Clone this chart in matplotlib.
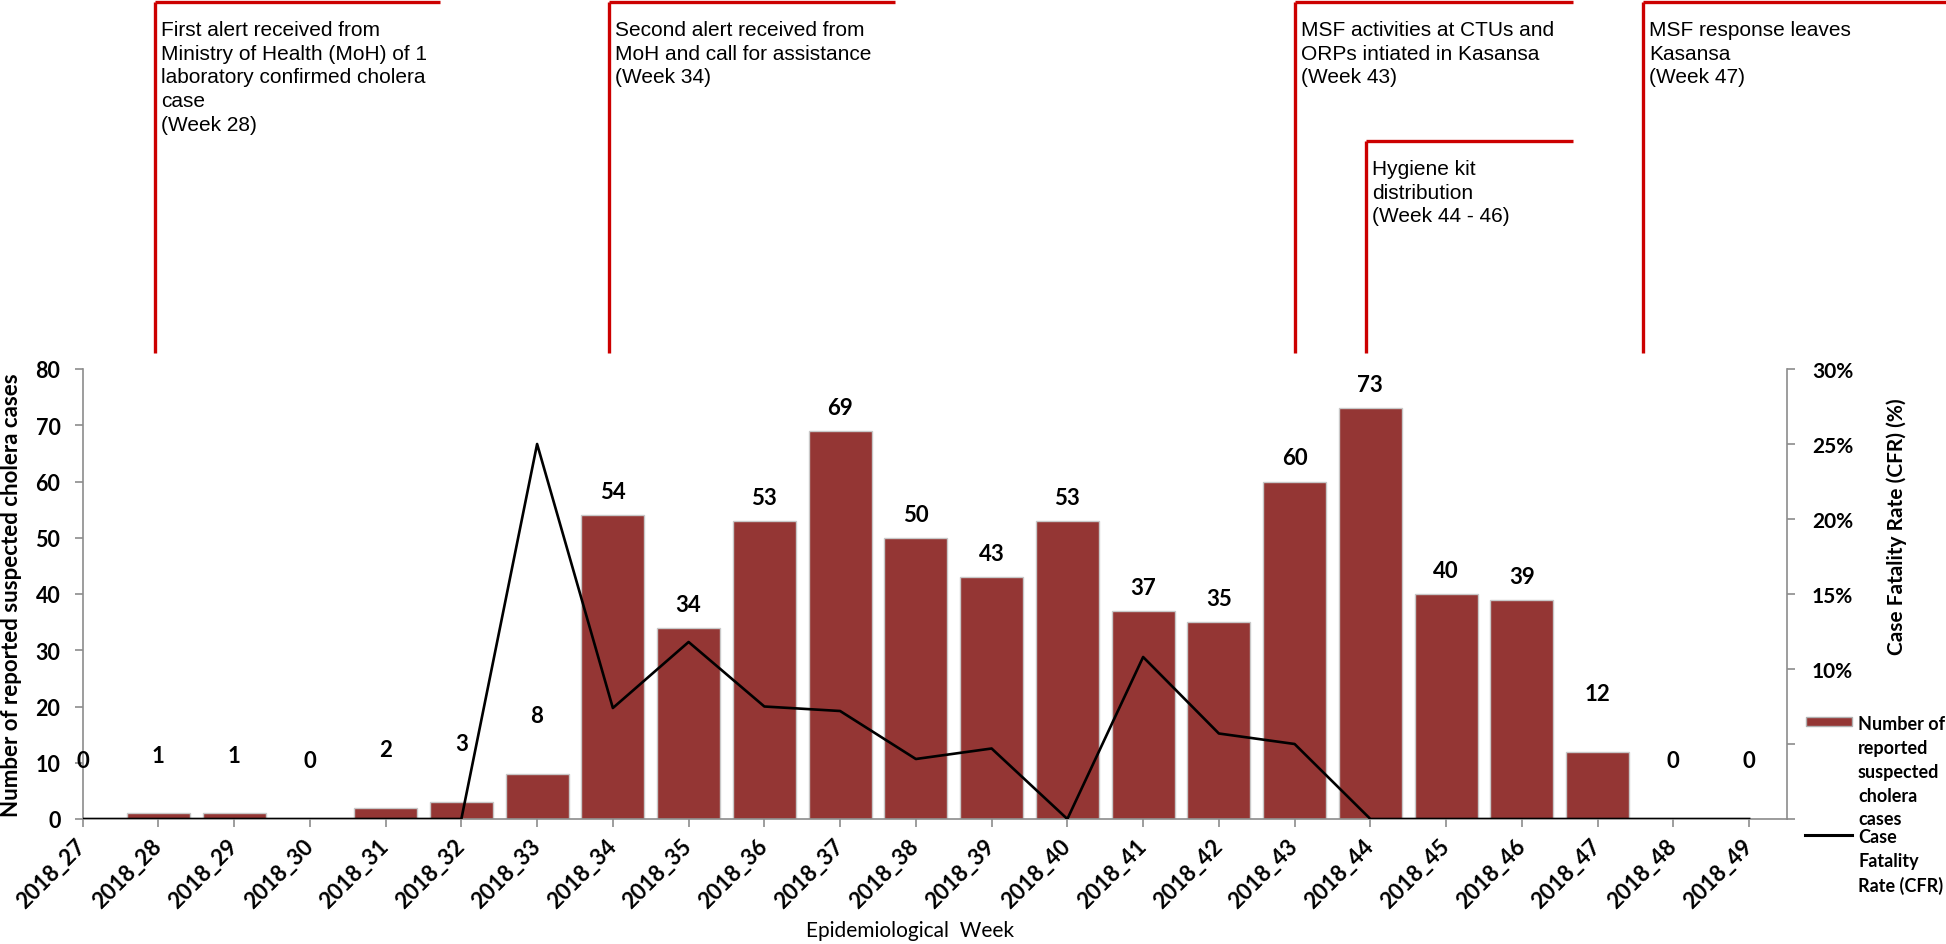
import numpy as np
import matplotlib.pyplot as plt
from matplotlib.patches import Rectangle
from matplotlib.lines import Line2D
from matplotlib.transforms import blended_transform_factory

# weekly data
weeks = ["2018_27", "2018_28", "2018_29", "2018_30", "2018_31", "2018_32",
         "2018_33", "2018_34", "2018_35", "2018_36", "2018_37", "2018_38",
         "2018_39", "2018_40", "2018_41", "2018_42", "2018_43", "2018_44",
         "2018_45", "2018_46", "2018_47", "2018_48", "2018_49"]
cases = [0, 1, 1, 0, 2, 3, 8, 54, 34, 53, 69, 50, 43, 53, 37, 35, 60, 73,
         40, 39, 12, 0, 0]
cfr = [0, 0, 0, 0, 0, 0, 25.0, 7.4, 11.8, 7.5, 7.2, 4.0, 4.7, 0, 10.8, 5.7,
       5.0, 0, 0, 0, 0, 0, 0]

# timeline events above the chart (week position as drawn)
event_week = [27.96, 33.95, 43.0, 43.94, 47.6]
event_end = [31.72, 37.72, 46.68, 46.68, 52]
event_text = [
    "First alert received from\nMinistry of Health (MoH) of 1\nlaboratory confirmed cholera\ncase\n(Week 28)",
    "Second alert received from\nMoH and call for assistance\n(Week 34)",
    "MSF activities at CTUs and\nORPs intiated in Kasansa\n(Week 43)",
    "Hygiene kit\ndistribution\n(Week 44 - 46)",
    "MSF response leaves\nKasansa\n(Week 47)",
]
event_top = [0.997, 0.997, 0.997, 0.850, 0.997]

BAR = "#943634"
RED = "#CC0000"
GREY = "#8c8c8c"
W, H = 1946, 945

fig = plt.figure(figsize=(19.46, 9.45), dpi=100)
ax = fig.add_axes([82.6 / W, 1 - 820 / H, (1787 - 82.6) / W, 450 / H])
x = np.arange(len(weeks))

ax.bar(x, cases, width=0.83, color=BAR, edgecolor="#c8c8c8", linewidth=1, zorder=2)
ax.set_xlim(0, 22.5)
ax.set_ylim(0, 80)
ax.set_yticks(range(0, 81, 10))
ax.set_xticks(x)
ax.set_xticklabels(weeks, rotation=45, ha="right", va="center",
                   rotation_mode="anchor", fontsize=16, fontweight="bold",
                   family="Lato")
for lbl in ax.get_yticklabels():
    lbl.set_fontsize(15.5)
    lbl.set_fontweight("bold")
    lbl.set_family("Lato")
ax.tick_params(axis="both", direction="out", length=6, width=1.2, color=GREY)
ax.tick_params(axis="x", pad=11)
ax.tick_params(axis="y", pad=10)
ax.spines["top"].set_visible(False)
ax.spines["right"].set_visible(False)
for s in ["left", "bottom"]:
    ax.spines[s].set_color(GREY)
    ax.spines[s].set_linewidth(1.2)

for xi, v in zip(x, cases):
    off = 42 if v <= 12 else 17
    ax.annotate(str(v), (xi, v), xytext=(0, off), textcoords="offset points",
                ha="center", va="center", fontsize=16, fontweight="bold",
                family="Lato")

ax2 = ax.twinx()
ax2.plot(x, cfr, color="black", lw=1.9, zorder=3)
ax2.set_ylim(0, 30)
ax2.set_yticks(range(0, 31, 5))
ax2.set_yticklabels([f"{v}%" for v in range(0, 31, 5)], fontsize=15,
                    fontweight="bold", family="Lato")
ax2.tick_params(axis="y", direction="out", length=6, width=1.2, color=GREY, pad=12)
ax2.spines["top"].set_visible(False)
ax2.spines["left"].set_visible(False)
ax2.spines["bottom"].set_visible(False)
ax2.spines["right"].set_color(GREY)
ax2.spines["right"].set_linewidth(1.2)

# axis titles
fig.text(12 / W, 1 - 595 / H, "Number of reported suspected cholera cases",
         rotation=90, ha="center", va="center", fontsize=16, fontweight="bold",
         family="Lato")
fig.text(1897 / W, 1 - 527 / H, "Case Fatality Rate (CFR) (%)", rotation=90,
         ha="center", va="center", fontsize=15, fontweight="bold", family="Lato")
fig.text(910 / W, 1 - 931 / H, "Epidemiological  Week", ha="center",
         va="center", fontsize=15, family="Lato")

# timeline markers
trans = blended_transform_factory(ax.transData, fig.transFigure)
bottom = 1 - 354 / H
for wk, end, txt, top in zip(event_week, event_end, event_text, event_top):
    xi = wk - 27
    ax.plot([xi, xi], [bottom, top], transform=trans, clip_on=False,
            color=RED, lw=2.4, solid_capstyle="butt")
    ax.plot([xi, end - 27], [top, top], transform=trans, clip_on=False,
            color=RED, lw=2.4, solid_capstyle="butt")
    ax.text(xi + 0.08, top - 0.019, txt, transform=trans, ha="left", va="top",
            fontsize=15, family="Liberation Sans", linespacing=1.32)

# legend (drawn by hand, Excel-style, over the lower right tick labels)
fig.patches.append(Rectangle((1795 / W, 0.0), 151 / W, 1 - 700 / H,
                             transform=fig.transFigure, facecolor="white",
                             edgecolor="none", zorder=5))
fig.patches.append(Rectangle((1806 / W, 1 - 727 / H), 46 / W, 9 / H,
                             transform=fig.transFigure, facecolor=BAR,
                             edgecolor="#b0b0b0", lw=1, zorder=6))
fig.lines.append(Line2D([1805 / W, 1852 / W], [1 - 836 / H, 1 - 836 / H],
                        transform=fig.transFigure, color="black", lw=2.2,
                        zorder=6))
fig.text(1858 / W, 1 - 716 / H, "Number of\nreported\nsuspected\ncholera\ncases",
         ha="left", va="top", fontsize=13, fontweight="bold", family="Lato",
         linespacing=1.49, zorder=7)
fig.text(1858 / W, 1 - 829 / H, "Case\nFatality\nRate (CFR)",
         ha="left", va="top", fontsize=13, fontweight="bold", family="Lato",
         linespacing=1.49, zorder=7)

fig.savefig("out.png", dpi=100)
